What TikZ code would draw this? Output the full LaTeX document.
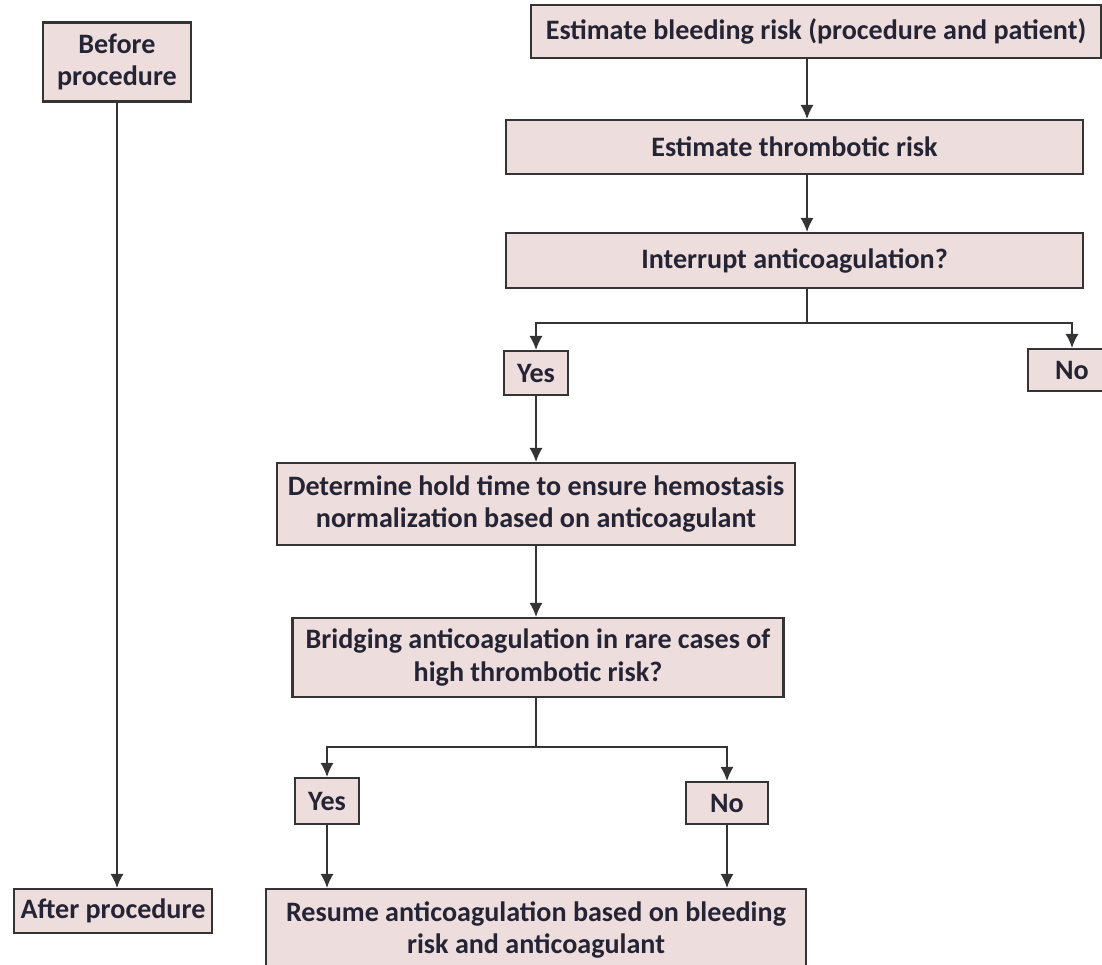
\documentclass[tikz,border=0pt]{standalone}
\usepackage{fontspec}
\setmainfont{Carlito}
\usepackage{xcolor}
\usetikzlibrary{arrows.meta}
\definecolor{boxfill}{RGB}{238,221,221}
\definecolor{boxline}{RGB}{52,52,52}
\definecolor{boxtext}{RGB}{36,36,52}
\newdimen\pxu
\pxu=0.02cm

\begin{document}
\begin{tikzpicture}[x=0.02cm,y=-0.02cm]
  \tikzset{font={\fontsize{16pt}{18.5pt}\selectfont\bfseries},
    stepbox/.style={draw=boxline,fill=boxfill,text=boxtext,line width=1.2pt,
      inner sep=0pt,align=center},
    arr/.style={-{Latex[length=8pt,width=7.5pt]},line width=0.9pt,draw=boxline},
    link/.style={line width=0.9pt,draw=boxline}}
  \useasboundingbox (0,0) rectangle (1102,964);
  % time line on the left
  \node[stepbox,minimum width=148*\pxu,minimum height=79*\pxu] (before) at (117,62) {Before\\procedure};
  \node[stepbox,minimum width=198*\pxu,minimum height=44*\pxu] (after) at (113,911) {After procedure};
  \draw[arr] (before) -- (before |- after.north);
  % steps
  \node[stepbox,minimum width=570*\pxu,minimum height=53*\pxu] (bleed) at (816,31.5) {Estimate bleeding risk (procedure and patient)};
  \node[stepbox,minimum width=577*\pxu,minimum height=54*\pxu] (thromb) at (794.5,147) {Estimate thrombotic risk};
  \node[stepbox,minimum width=577*\pxu,minimum height=55*\pxu] (interrupt) at (794.5,260.5) {Interrupt anticoagulation?};
  \node[stepbox,minimum width=64*\pxu,minimum height=44*\pxu] (yesA) at (536,373) {Yes};
  \node[stepbox,minimum width=88*\pxu,minimum height=42*\pxu] (noA) at (1072,370) {No};
  \node[stepbox,minimum width=518*\pxu,minimum height=82*\pxu] (hold) at (536,504) {Determine hold time to ensure hemostasis\\normalization based on anticoagulant};
  \node[stepbox,minimum width=491*\pxu,minimum height=79*\pxu] (bridge) at (538,657.5) {Bridging anticoagulation in rare cases of\\high thrombotic risk?};
  \node[stepbox,minimum width=64*\pxu,minimum height=46*\pxu] (yesB) at (327,801) {Yes};
  \node[stepbox,minimum width=82*\pxu,minimum height=42*\pxu] (noB) at (727,803) {No};
  \node[stepbox,minimum width=540*\pxu,minimum height=82*\pxu] (resume) at (536,930) {Resume anticoagulation based on bleeding\\risk and anticoagulant};
  % connectors
  \coordinate (spineA) at (807,0);
  \coordinate (forkA) at (807,323);
  \coordinate (forkB) at (536,747);
  \draw[arr] (bleed.south -| spineA) -- (thromb.north -| spineA);
  \draw[arr] (thromb.south -| spineA) -- (interrupt.north -| spineA);
  \draw[link] (interrupt.south -| spineA) -- (forkA);
  \draw[arr] (forkA) -| (yesA.north);
  \draw[arr] (forkA) -| (noA.north);
  \draw[arr] (yesA.south) -- (yesA.south |- hold.north);
  \draw[arr] (hold.south) -- (hold.south |- bridge.north);
  \draw[link] (bridge.south -| forkB) -- (forkB);
  \draw[arr] (forkB) -| (yesB.north);
  \draw[arr] (forkB) -| (noB.north);
  \draw[arr] (yesB) -- (yesB |- resume.north);
  \draw[arr] (noB) -- (noB |- resume.north);
\end{tikzpicture}
\end{document}
